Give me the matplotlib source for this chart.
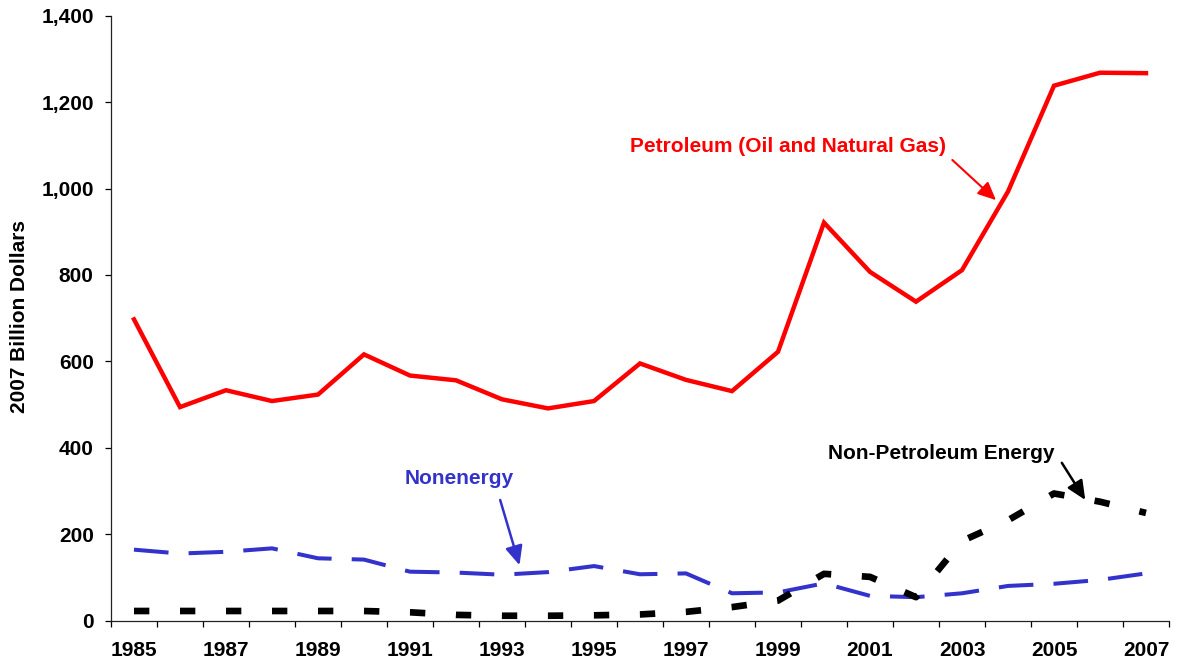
import matplotlib
matplotlib.use("Agg")
import matplotlib.pyplot as plt
from matplotlib.ticker import FuncFormatter, FixedLocator

plt.rcParams['font.family'] = ['Liberation Sans', 'DejaVu Sans']

years = list(range(1985, 2008))
petroleum = [697, 494, 533, 508, 523, 616, 567, 556, 512, 491, 508, 595,
             557, 531, 622, 921, 807, 738, 811, 993, 1238, 1268, 1267]
nonenergy = [164, 155, 159, 167, 144, 141, 113, 111, 106, 112, 126, 107,
             109, 63, 65, 86, 57, 54, 63, 80, 85, 94, 109]
non_petroleum_energy = [22, 22, 22, 22, 22, 22, 19, 13, 11, 11, 12, 14,
                        20, 31, 46, 108, 101, 54, 184, 232, 294, 275, 249]

y_ticks = [0, 200, 400, 600, 800, 1000, 1200, 1400]
x_label_years = list(range(1985, 2008, 2))

RED = '#FF0000'
BLUE = '#3333CC'
BLACK = '#000000'

fig = plt.figure(figsize=(11.77, 6.65), dpi=100)
ax = fig.add_axes([111/1177, 1 - 620.5/665, (1169-111)/1177, (620.5-15.7)/665])

ax.plot(years, petroleum, color=RED, lw=3.2, solid_joinstyle='miter', zorder=3)
ax.plot(years, nonenergy, color=BLUE, lw=2.9, dashes=(8.6, 5.0), zorder=4)
ax.plot(years, non_petroleum_energy, color=BLACK, lw=4.8, dashes=(2.3, 4.6), zorder=5)

ax.set_xlim(1984.5, 2007.5)
ax.set_ylim(0, 1400)

ax.yaxis.set_major_locator(FixedLocator(y_ticks))
ax.yaxis.set_major_formatter(FuncFormatter(lambda v, p: f"{int(v):,}"))
ax.xaxis.set_major_locator(FixedLocator(x_label_years))
ax.xaxis.set_minor_locator(FixedLocator([y - 0.5 for y in range(1985, 2009)]))

ax.tick_params(axis='x', which='major', length=0, pad=15, labelsize=15)
ax.tick_params(axis='x', which='minor', length=4.5, width=0.9, direction='out')
ax.tick_params(axis='y', which='major', length=4.5, width=0.9, direction='out',
               pad=8, labelsize=15)
for lbl in ax.get_xticklabels() + ax.get_yticklabels():
    lbl.set_fontweight('bold')

for s in ['top', 'right']:
    ax.spines[s].set_visible(False)
for s in ['left', 'bottom']:
    ax.spines[s].set_linewidth(0.9)
    ax.spines[s].set_color('#222222')

fig.text(20/1177, 1 - 316.7/665, '2007 Billion Dollars', rotation=90,
         ha='center', va='center', fontsize=15, fontweight='bold')

ARROW = '-|>,head_length=0.55,head_width=0.25'

# Annotations
ax.text(1999.21, 1097, 'Petroleum (Oil and Natural Gas)', color=RED,
        fontsize=15, fontweight='bold', ha='center', va='center')
ax.annotate('', xy=(2003.74, 973), xytext=(2002.79, 1066),
            arrowprops=dict(arrowstyle=ARROW, color=RED, lw=1.5,
                            mutation_scale=20, shrinkA=0, shrinkB=0))

ax.text(1992.06, 329, 'Nonenergy', color=BLUE,
        fontsize=15, fontweight='bold', ha='center', va='center')
ax.annotate('', xy=(1993.38, 128), xytext=(1992.96, 279),
            arrowprops=dict(arrowstyle=ARROW, color=BLUE, lw=1.8,
                            mutation_scale=21, shrinkA=0, shrinkB=0))

ax.text(2002.54, 387, 'Non-Petroleum Energy', color=BLACK,
        fontsize=15, fontweight='bold', ha='center', va='center')
ax.annotate('', xy=(2005.68, 279), xytext=(2005.17, 365),
            arrowprops=dict(arrowstyle=ARROW, color=BLACK, lw=1.8,
                            mutation_scale=21, shrinkA=0, shrinkB=0))

fig.savefig('out.png', dpi=100)
